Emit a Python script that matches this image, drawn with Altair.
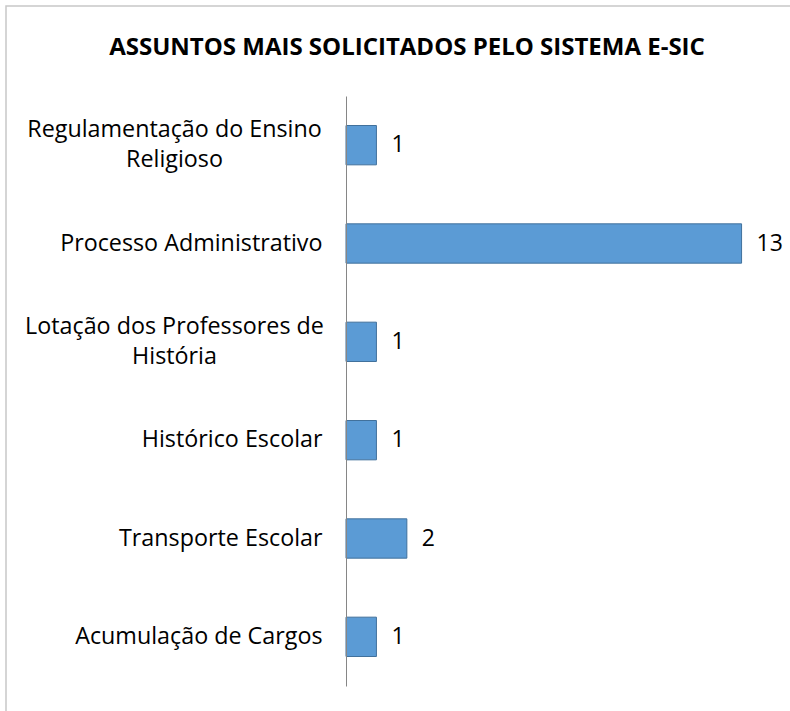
import altair as alt
import pandas as pd

categories = [
    "Regulamentação do Ensino|Religioso",
    "Processo Administrativo",
    "Lotação dos Professores de|História",
    "Histórico Escolar",
    "Transporte Escolar",
    "Acumulação de Cargos",
]
values = [1, 13, 1, 1, 2, 1]
title_text = "ASSUNTOS MAIS SOLICITADOS PELO SISTEMA E-SIC"

df = pd.DataFrame({"cat": categories, "val": values})
title_df = pd.DataFrame({"t": [title_text]})

FONT = "Open Sans"
wrapped = "indexof(datum.label, '|') >= 0"

y_enc = alt.Y(
    "cat:N",
    sort=categories,
    scale=alt.Scale(paddingInner=0.6, paddingOuter=0.3),
    axis=alt.Axis(
        title=None,
        ticks=False,
        domainColor="#868686",
        domainWidth=1,
        labelPadding={"condition": {"test": wrapped, "value": 172}, "value": 24},
        labelAlign={"condition": {"test": wrapped, "value": "center"}, "value": "right"},
        labelFont=FONT,
        labelFontSize=23.3,
        labelColor="#000000",
        labelLineHeight=30,
        labelLimit=400,
        labelExpr="split(datum.label, '|')",
        labelOffset={"condition": {"test": wrapped, "value": -15}, "value": 0},
        zindex=1,
    ),
)
x_enc = alt.X("val:Q", scale=alt.Scale(domain=[0, 14], nice=False), axis=None)

frame = alt.Chart(title_df).mark_rect(
    filled=False, stroke="#C8C8C8", strokeWidth=1.5, clip=False
).encode(
    x=alt.value(-340), x2=alt.value(480), y=alt.value(-90), y2=alt.value(640)
)

title = alt.Chart(title_df).mark_text(
    font=FONT, fontSize=24, fontWeight="bold", color="#000000",
    align="center", baseline="middle",
).encode(x=alt.value(61), y=alt.value(-48), text="t:N")

bars = alt.Chart(df).mark_bar(
    color="#5B9BD5", stroke="#41719C", strokeWidth=1
).encode(y=y_enc, x=x_enc)

labels = alt.Chart(df).mark_text(
    align="left", baseline="middle", dx=15, font=FONT, fontSize=23, color="#000000"
).encode(y=alt.Y("cat:N", sort=categories), x="val:Q", text="val:Q")

chart = alt.layer(frame, title, bars, labels).properties(
    width=426,
    height=590,
    background="white",
    autosize=alt.AutoSizeParams(type="none"),
    padding={"left": 346, "top": 96, "right": 18, "bottom": 25},
).configure_view(stroke=None)

chart.save("out.html", embed_options={"renderer": "svg", "actions": False})
